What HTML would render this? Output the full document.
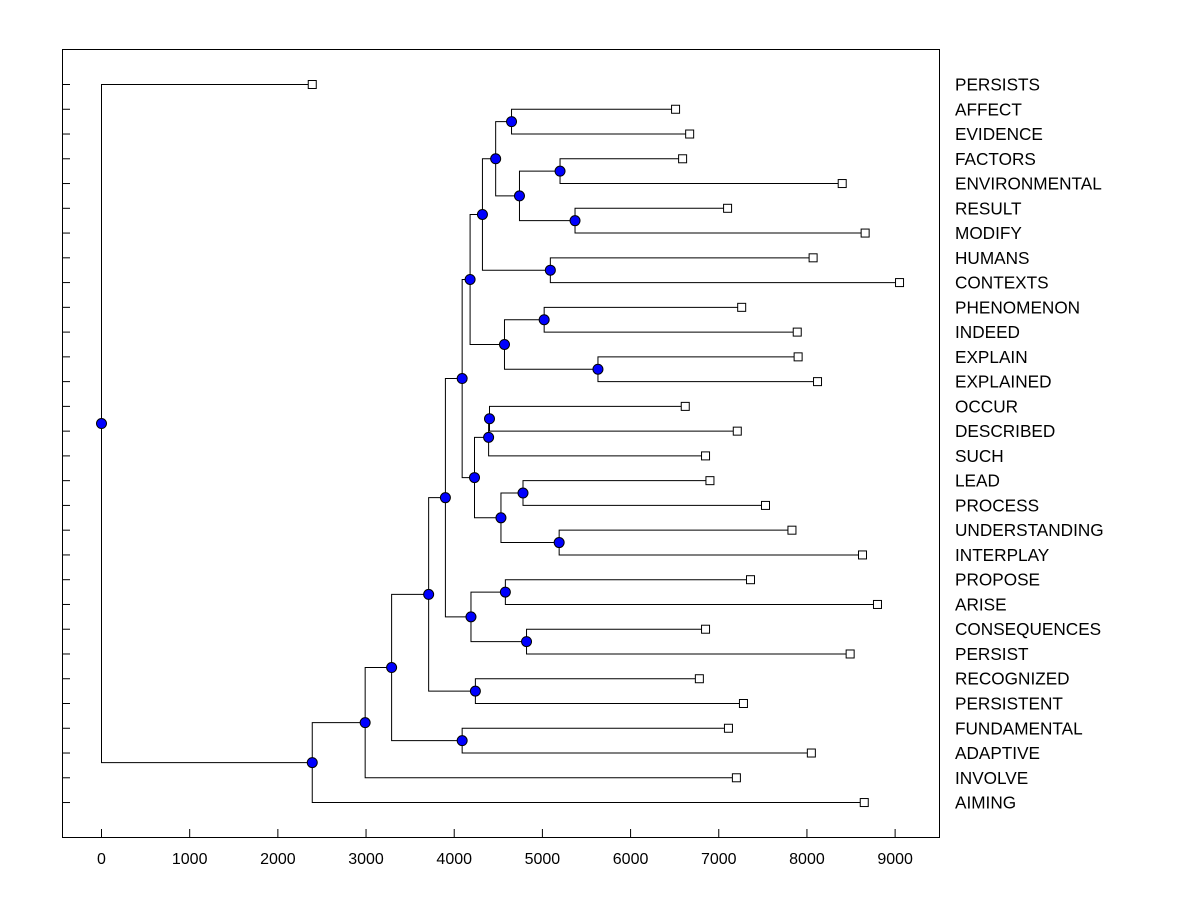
<!DOCTYPE html>
<html><head><meta charset="utf-8"><style>
body{margin:0;background:#fff}
svg text{font-family:"Liberation Sans",Arial,sans-serif;font-size:16px;fill:#000}
svg text.leaf{font-size:17.2px}
</style></head><body>
<svg id="chart" width="1200" height="900">
<rect x="62.5" y="49.5" width="877" height="788" fill="none" stroke="#000"/>
<g id="g"></g>
</svg>
<script>
const leafLabels=["PERSISTS","AFFECT","EVIDENCE","FACTORS","ENVIRONMENTAL","RESULT","MODIFY","HUMANS","CONTEXTS","PHENOMENON","INDEED","EXPLAIN","EXPLAINED","OCCUR","DESCRIBED","SUCH","LEAD","PROCESS","UNDERSTANDING","INTERPLAY","PROPOSE","ARISE","CONSEQUENCES","PERSIST","RECOGNIZED","PERSISTENT","FUNDAMENTAL","ADAPTIVE","INVOLVE","AIMING"];
const leafValues=[2390,6510,6670,6590,8400,7100,8660,8070,9050,7260,7890,7900,8120,6620,7210,6850,6900,7530,7830,8630,7360,8800,6850,8490,6780,7280,7110,8050,7200,8650];
// internal nodes: [name, height, childA, childB]; children are leaf indices (numbers) or node names
const mergeNodes=[
["R",4650,1,2],["T",5200,3,4],["U",5370,5,6],["S",4740,"T","U"],["P",4470,"R","S"],
["Q",5090,7,8],["N",4320,"P","Q"],["V",5020,9,10],["W",5630,11,12],["O",4570,"V","W"],
["L",4180,"N","O"],["Z",4400,13,14],["X",4390,"Z",15],["AA",4780,16,17],["BB",5190,18,19],
["Y",4530,"AA","BB"],["M",4230,"X","Y"],["H",4090,"L","M"],["J",4580,20,21],["K",4820,22,23],
["I",4190,"J","K"],["F",3900,"H","I"],["G",4240,24,25],["D",3710,"F","G"],["E",4090,26,27],
["C",3290,"D","E"],["B",2990,"C",28],["A",2390,"B",29],["ROOT",0,0,"A"]];
const xTicks=[0,1000,2000,3000,4000,5000,6000,7000,8000,9000];
const X=v=>101.5+v*0.08818, Y=i=>84.5+i*24.76;
const NS="http://www.w3.org/2000/svg", g=document.getElementById('g');
function mk(t,a,txt){const e=document.createElementNS(NS,t);for(const k in a)e.setAttribute(k,a[k]);if(txt!=null)e.textContent=txt;g.appendChild(e);return e;}
xTicks.forEach(v=>{
 const t=mk('line',{x1:X(v),x2:X(v),y1:837,y2:829,stroke:'#000'});
 
 
 const l=mk('text',{x:X(v),y:864,'text-anchor':'middle'},v);
 
 
});
const pos={};
leafLabels.forEach((n,i)=>{pos[i]={x:X(leafValues[i]),y:Y(i)};
 const t=mk('line',{x1:62,x2:70,y1:Y(i),y2:Y(i),stroke:'#000'});
 
 
 const l=mk('text',{x:955,y:Y(i)+6,class:'leaf'},n);
 
 
});
const dots=[];
mergeNodes.forEach(([nm,h,a,b])=>{
 const pa=pos[a],pb=pos[b],x=X(h),y=(pa.y+pb.y)/2;pos[nm]={x,y};
 const p=mk('path',{d:`M${pa.x},${pa.y}H${x}V${pb.y}H${pb.x}`,fill:'none',stroke:'#000'});
 
 
 dots.push([x,y]);
});
leafLabels.forEach((n,i)=>{
 const r=mk('rect',{x:pos[i].x-4,y:pos[i].y-4,width:8,height:8,fill:'#fff',stroke:'#000'});
 
 
});
dots.forEach(([x,y])=>{
 const c=mk('circle',{cx:x,cy:y,r:5,fill:'#0000ff',stroke:'#000'});
 
 
});
</script>
</body></html>
